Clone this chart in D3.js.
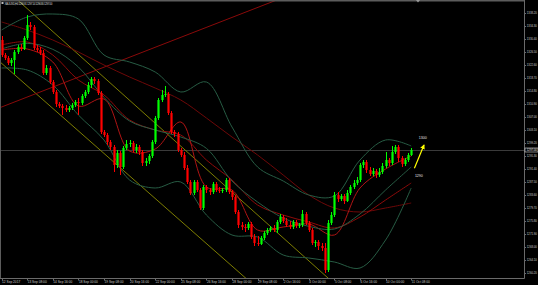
<!DOCTYPE html>
<html>
<head>
<meta charset="utf-8">
<script src="https://cdn.jsdelivr.net/npm/d3@7"></script>
<style>
  html, body { margin: 0; padding: 0; background: #000; }
  svg { display: block; font-family: 'Liberation Sans', Arial, sans-serif; }
</style>
</head>
<body>
<svg id="grafico"></svg>
<script>
// XAUUSD H4 candles, bar 0 = 12 Sep 2017 00:00
const opens = [1330.0,1325.5,1324.6,1323.1,1324.0,1326.4,1327.9,1327.3,1330.6,1334.5,
  1333.9,1327.6,1327.0,1326.1,1320.1,1321.6,1317.4,1314.4,1310.8,1310.2,
  1309.6,1309.0,1309.6,1310.5,1311.4,1311.1,1313.2,1314.4,1316.5,1318.3,
  1317.7,1314.1,1302.4,1301.5,1299.4,1297.9,1292.5,1296.1,1291.9,1297.6,
  1298.8,1299.1,1297.0,1297.9,1296.4,1293.1,1293.7,1295.2,1299.4,1306.6,
  1312.0,1313.5,1313.8,1308.1,1302.4,1301.8,1297.0,1295.5,1291.6,1287.4,
  1284.1,1287.4,1285.0,1279.6,1285.9,1285.0,1284.4,1286.8,1285.0,1284.7,
  1285.0,1288.0,1284.4,1282.9,1278.4,1274.5,1273.9,1273.6,1274.8,1270.9,
  1269.1,1268.8,1270.6,1272.1,1273.0,1273.6,1273.0,1275.4,1276.9,1275.7,
  1274.5,1273.9,1275.4,1274.2,1274.5,1277.8,1275.1,1273.0,1269.1,1269.4,
  1268.2,1267.6,1261.0,1275.1,1277.5,1283.5,1282.3,1283.2,1281.7,1284.1,
  1285.9,1287.1,1288.0,1292.5,1293.4,1291.0,1289.8,1290.7,1289.5,1290.4,
  1292.2,1294.0,1293.1,1296.4,1297.9,1294.6,1292.8,1294.0,1295.5]
const highs = [1331.2,1326.1,1325.2,1324.6,1327.0,1328.5,1328.8,1331.2,1337.5,1335.4,
  1334.5,1328.5,1327.9,1327.0,1322.5,1322.2,1318.0,1315.0,1311.4,1310.8,
  1310.5,1310.2,1311.1,1312.0,1312.6,1313.8,1315.0,1317.4,1318.9,1318.9,
  1318.3,1314.7,1303.0,1302.1,1300.0,1298.5,1297.0,1296.7,1298.2,1300.0,
  1300.0,1299.7,1298.8,1298.5,1297.0,1294.6,1295.8,1300.0,1307.2,1312.6,
  1315.0,1316.2,1314.4,1308.7,1303.0,1302.4,1297.6,1296.4,1292.5,1288.0,
  1288.0,1288.0,1285.6,1286.5,1286.5,1285.6,1287.4,1287.4,1285.9,1285.6,
  1288.6,1288.6,1285.0,1283.5,1279.0,1275.4,1274.8,1275.4,1275.4,1271.8,
  1271.2,1271.2,1272.7,1273.6,1274.2,1274.5,1276.0,1277.8,1277.5,1276.6,
  1275.7,1276.0,1276.0,1275.1,1279.0,1278.4,1275.7,1273.6,1270.0,1270.0,
  1269.1,1269.1,1276.0,1278.4,1284.4,1284.4,1283.8,1283.8,1285.0,1286.5,
  1288.0,1288.9,1293.1,1294.0,1294.0,1291.9,1291.6,1291.3,1291.6,1293.1,
  1296.4,1294.6,1298.2,1298.5,1298.5,1295.2,1294.6,1296.1,1297.6]
const lows = [1324.9,1324.0,1322.5,1322.2,1319.8,1325.8,1326.7,1327.0,1330.0,1333.0,
  1327.0,1326.4,1325.5,1319.5,1319.5,1316.8,1313.8,1309.9,1309.6,1307.5,
  1308.4,1308.4,1309.0,1309.9,1307.5,1310.5,1312.6,1313.8,1315.6,1316.8,
  1313.5,1301.8,1300.9,1298.5,1297.0,1290.4,1291.6,1289.5,1291.3,1297.0,
  1297.9,1296.4,1296.1,1295.5,1292.2,1292.2,1292.8,1294.6,1298.8,1306.0,
  1311.4,1312.9,1307.5,1301.8,1300.9,1296.4,1294.9,1291.0,1286.8,1283.5,
  1283.5,1284.4,1279.0,1279.0,1284.1,1283.5,1283.8,1284.4,1284.1,1284.1,
  1284.4,1283.8,1282.0,1277.8,1273.6,1273.0,1272.4,1273.0,1270.3,1268.2,
  1268.2,1268.5,1270.0,1271.5,1272.4,1272.4,1272.1,1274.8,1275.1,1273.9,
  1273.3,1273.3,1273.6,1273.6,1273.9,1274.5,1272.4,1268.5,1267.9,1267.0,
  1266.7,1260.1,1260.4,1274.5,1276.9,1281.4,1281.7,1280.8,1281.4,1283.5,
  1285.3,1286.5,1287.4,1291.6,1290.1,1289.2,1289.2,1288.6,1288.9,1289.8,
  1291.6,1292.2,1292.5,1295.8,1293.4,1291.9,1292.2,1293.4,1295.2]
const closes = [1325.5,1324.6,1323.1,1324.0,1326.4,1327.9,1327.3,1330.6,1334.5,1333.9,
  1327.6,1327.0,1326.1,1320.1,1321.6,1317.4,1314.4,1310.8,1310.2,1309.6,
  1309.0,1309.6,1310.5,1311.4,1311.1,1313.2,1314.4,1316.5,1318.3,1317.7,
  1314.1,1302.4,1301.5,1299.4,1297.9,1292.5,1296.1,1291.9,1297.6,1298.8,
  1299.1,1297.0,1297.9,1296.4,1293.1,1293.7,1295.2,1299.4,1306.6,1312.0,
  1313.5,1313.8,1308.1,1302.4,1301.8,1297.0,1295.5,1291.6,1287.4,1284.1,
  1287.4,1285.0,1279.6,1285.9,1285.0,1284.4,1286.8,1285.0,1284.7,1285.0,
  1288.0,1284.4,1282.9,1278.4,1274.5,1273.9,1273.6,1274.8,1270.9,1269.1,
  1268.8,1270.6,1272.1,1273.0,1273.6,1273.0,1275.4,1276.9,1275.7,1274.5,
  1273.9,1275.4,1274.2,1274.5,1277.8,1275.1,1273.0,1269.1,1269.4,1268.2,
  1267.6,1261.0,1275.1,1277.5,1283.5,1282.3,1283.2,1281.7,1284.1,1285.9,
  1287.1,1288.0,1292.5,1293.4,1291.0,1289.8,1290.7,1289.5,1290.4,1292.2,
  1294.0,1293.1,1296.4,1297.9,1294.6,1292.8,1294.0,1295.5,1297.0]

// eixo do tempo
const tickBars = [0,8,16,24,32,40,48,56,64,72,80,88,96,104,112,120,128]
const tickLabels = ['12 Sep 2017','13 Sep 08:00','14 Sep 16:00','18 Sep 00:00','19 Sep 08:00',
  '20 Sep 16:00','22 Sep 00:00','25 Sep 08:00','26 Sep 16:00','28 Sep 00:00','29 Sep 08:00',
  '2 Oct 16:00','4 Oct 00:00','5 Oct 08:00','6 Oct 16:00','10 Oct 00:00','11 Oct 08:00']

// eixo de preço
const priceTicks = [1338.20,1334.30,1330.40,1326.50,1322.60,1318.70,1314.80,1310.90,1307.00,
  1303.10,1299.20,1295.30,1291.40,1287.50,1283.60,1279.70,1275.80,1271.90,1268.00,1264.10,1260.20]
const lastPrice = 1297.00

// indicators read at these bars
const sampleBars = [0,8,16,24,32,40,48,56,64,72,80,88,96,104,112,120,128]
const bbUpper = [1333.0,1336.9,1337.8,1336.3,1325.5,1323.4,1320.4,1314.4,1317.4,1303.9,1291.9,1287.7,1283.5,1283.2,1294.0,1300.0,1298.2]
const bbMiddle = [1327.3,1329.0,1327.2,1321.9,1312.8,1305.7,1303.0,1300.9,1297.5,1287.7,1281.4,1276.6,1274.1,1273.3,1277.8,1285.0,1291.9]
const bbLower = [1321.6,1321.0,1316.5,1307.5,1300.0,1288.0,1285.6,1287.4,1277.5,1271.5,1270.9,1265.5,1264.6,1263.4,1261.6,1270.0,1285.6]
const maFast = [1327.0,1327.3,1323.4,1310.2,1312.3,1296.7,1297.3,1305.4,1285.9,1285.0,1273.0,1273.9,1274.8,1271.5,1285.6,1291.3,1295.2]
const maMedium = [1328.5,1329.4,1325.5,1318.0,1313.5,1306.0,1303.0,1301.5,1294.0,1288.0,1280.5,1277.5,1275.4,1273.6,1276.9,1282.0,1287.1]
const maSlow = [1335.4,1333.0,1330.0,1326.4,1322.5,1318.9,1315.6,1312.0,1306.6,1300.9,1295.5,1289.5,1283.5,1279.6,1278.4,1279.6,1281.1]

// drawn objects: [bar, price] anchors
const trendRed = [[0, 1309.9], [86, 1342.0]]
const channelTop = [[5, 1342.0], [102, 1258.6]]
const channelBottom = [[0, 1323.0], [76, 1258.8]]
const arrowPts = [[129, 1291.5], [132, 1298.5]]
const levelNotes = [{bar: 131.6, price: 1300.3, text: '1300'}, {bar: 130.4, price: 1288.8, text: '1290'}]

const largura = 538, altura = 285
const plotW = 524, plotH = 278

const svg = d3.select('#grafico').attr('width', largura).attr('height', altura)
svg.append('rect').attr('width', largura).attr('height', altura).attr('fill', '#000')

const fnX = d3.scaleLinear().domain([-0.5, 163.25]).range([0, plotW])
const fnY = d3.scaleLinear().domain([1258.6, 1342]).range([plotH, 0])

svg.append('clipPath').attr('id', 'area')
  .append('rect').attr('x', 0).attr('y', 1).attr('width', plotW).attr('height', plotH - 1)

const plot = svg.append('g').attr('clip-path', 'url(#area)')

// linha do bid
plot.append('line')
  .attr('x1', 0).attr('x2', plotW)
  .attr('y1', Math.round(fnY(lastPrice)) + 0.5).attr('y2', Math.round(fnY(lastPrice)) + 0.5)
  .attr('stroke', '#3a3a3a').attr('stroke-width', 1)

// straight objects, extended across the chart as rays
function ray(pts) {
  const [[b0, p0], [b1, p1]] = pts
  const k = (p1 - p0) / (b1 - b0)
  const bA = -1, bB = 170
  return [[fnX(bA), fnY(p0 + k * (bA - b0))], [fnX(bB), fnY(p0 + k * (bB - b0))]]
}
function drawRay(pts, cor) {
  const seg = ray(pts)
  plot.append('line')
    .attr('x1', seg[0][0]).attr('y1', seg[0][1]).attr('x2', seg[1][0]).attr('y2', seg[1][1])
    .attr('stroke', cor).attr('stroke-width', 1)
}
drawRay(channelTop, '#7d7d00')
drawRay(channelBottom, '#7d7d00')
drawRay(trendRed, '#8a0a0a')

// indicator curves
const linha = d3.line()
  .x((d, i) => fnX(sampleBars[i]))
  .y(d => fnY(d))
  .curve(d3.curveCatmullRom)

const series = [
  {v: maSlow, cor: '#6e0808'},
  {v: maMedium, cor: '#8e0a0a'},
  {v: maFast, cor: '#b01414'},
  {v: bbUpper, cor: '#275c44'},
  {v: bbMiddle, cor: '#275c44'},
  {v: bbLower, cor: '#275c44'}
]
series.forEach(s => {
  plot.append('path').datum(s.v)
    .attr('d', linha)
    .attr('fill', 'none')
    .attr('stroke', s.cor)
    .attr('stroke-width', 1)
})

// candles
const barras = d3.range(closes.length)
const bodyW = 2.2
const corDe = i => closes[i] >= opens[i] ? '#00ff00' : '#ff0000'

plot.selectAll('.pavio').data(barras).enter().append('line').classed('pavio', true)
  .attr('x1', i => Math.round(fnX(i)) + 0.5)
  .attr('x2', i => Math.round(fnX(i)) + 0.5)
  .attr('y1', i => fnY(highs[i]))
  .attr('y2', i => fnY(lows[i]))
  .attr('stroke', corDe)
  .attr('stroke-width', 1)

plot.selectAll('.corpo').data(barras).enter().append('rect').classed('corpo', true)
  .attr('x', i => Math.round(fnX(i)) + 0.5 - bodyW / 2)
  .attr('y', i => fnY(Math.max(opens[i], closes[i])))
  .attr('width', bodyW)
  .attr('height', i => Math.max(0.8, Math.abs(fnY(opens[i]) - fnY(closes[i]))))
  .attr('fill', corDe)

// yellow arrow with level notes
svg.append('defs').append('marker')
  .attr('id', 'seta').attr('viewBox', '0 0 6 6').attr('refX', 5).attr('refY', 3)
  .attr('markerWidth', 4).attr('markerHeight', 4).attr('orient', 'auto')
  .append('path').attr('d', 'M0,0 L6,3 L0,6 Z').attr('fill', '#ffff00')

plot.append('line')
  .attr('x1', fnX(arrowPts[0][0])).attr('y1', fnY(arrowPts[0][1]))
  .attr('x2', fnX(arrowPts[1][0])).attr('y2', fnY(arrowPts[1][1]))
  .attr('stroke', '#ffff00').attr('stroke-width', 1.2)
  .attr('marker-end', 'url(#seta)')

plot.selectAll('.nivel').data(levelNotes).enter().append('text').classed('nivel', true)
  .attr('x', d => fnX(d.bar))
  .attr('y', d => fnY(d.price))
  .attr('text-anchor', 'middle')
  .attr('font-size', 3.6)
  .attr('fill', '#e0e0e0')
  .text(d => d.text)

// frame
svg.append('line').attr('x1', 0).attr('x2', plotW).attr('y1', 0.5).attr('y2', 0.5)
  .attr('stroke', '#5c5c5c').attr('stroke-width', 2)
svg.append('line').attr('x1', 0.5).attr('x2', 0.5).attr('y1', 0).attr('y2', plotH)
  .attr('stroke', '#5c5c5c')
svg.append('line').attr('x1', plotW + 0.5).attr('x2', plotW + 0.5).attr('y1', 0).attr('y2', plotH + 0.5)
  .attr('stroke', '#6a6a6a')
svg.append('line').attr('x1', 0).attr('x2', plotW + 0.5).attr('y1', plotH + 0.5).attr('y2', plotH + 0.5)
  .attr('stroke', '#6a6a6a')

// chart shift marker
svg.append('path').attr('d', 'M416,0 L420,0 L418,2.5 Z').attr('fill', '#9a9a9a')

// eixo X
const eixoX = svg.append('g')
eixoX.selectAll('line').data(tickBars).enter().append('line')
  .attr('x1', d => Math.round(fnX(d)) + 0.5).attr('x2', d => Math.round(fnX(d)) + 0.5)
  .attr('y1', plotH).attr('y2', plotH + 2.5)
  .attr('stroke', '#6a6a6a')
eixoX.selectAll('text').data(tickBars).enter().append('text')
  .attr('x', d => fnX(d) + 0.5)
  .attr('y', plotH + 5.2)
  .attr('font-size', 3.2)
  .attr('fill', '#c8c8c8')
  .text((d, i) => tickLabels[i])

// eixo Y
const eixoY = svg.append('g')
eixoY.selectAll('line').data(priceTicks).enter().append('line')
  .attr('x1', plotW).attr('x2', plotW + 2)
  .attr('y1', d => Math.round(fnY(d)) + 0.5).attr('y2', d => Math.round(fnY(d)) + 0.5)
  .attr('stroke', '#6a6a6a')
eixoY.selectAll('text').data(priceTicks).enter().append('text')
  .attr('x', plotW + 2.8)
  .attr('y', d => fnY(d) + 1)
  .attr('font-size', 2.8)
  .attr('fill', '#c8c8c8')
  .text(d => d.toFixed(2))

// current price box
svg.append('rect')
  .attr('x', plotW + 1).attr('y', fnY(lastPrice) - 2)
  .attr('width', 13).attr('height', 4)
  .attr('fill', '#000').attr('stroke', '#d8d8d8').attr('stroke-width', 0.6)
svg.append('text')
  .attr('x', plotW + 2.8).attr('y', fnY(lastPrice) + 1)
  .attr('font-size', 2.8).attr('fill', '#e8e8e8')
  .text(lastPrice.toFixed(2))

// cabeçalho
svg.append('rect').attr('x', 1.5).attr('y', 2).attr('width', 2).attr('height', 2).attr('fill', '#bbbbbb')
svg.append('text')
  .attr('x', 4.5).attr('y', 4.6)
  .attr('font-size', 3)
  .attr('textLength', 48)
  .attr('fill', '#c8c8c8')
  .text('XAUUSD,H4  1296.91 1297.14 1296.80 1297.00')
</script>
</body>
</html>
